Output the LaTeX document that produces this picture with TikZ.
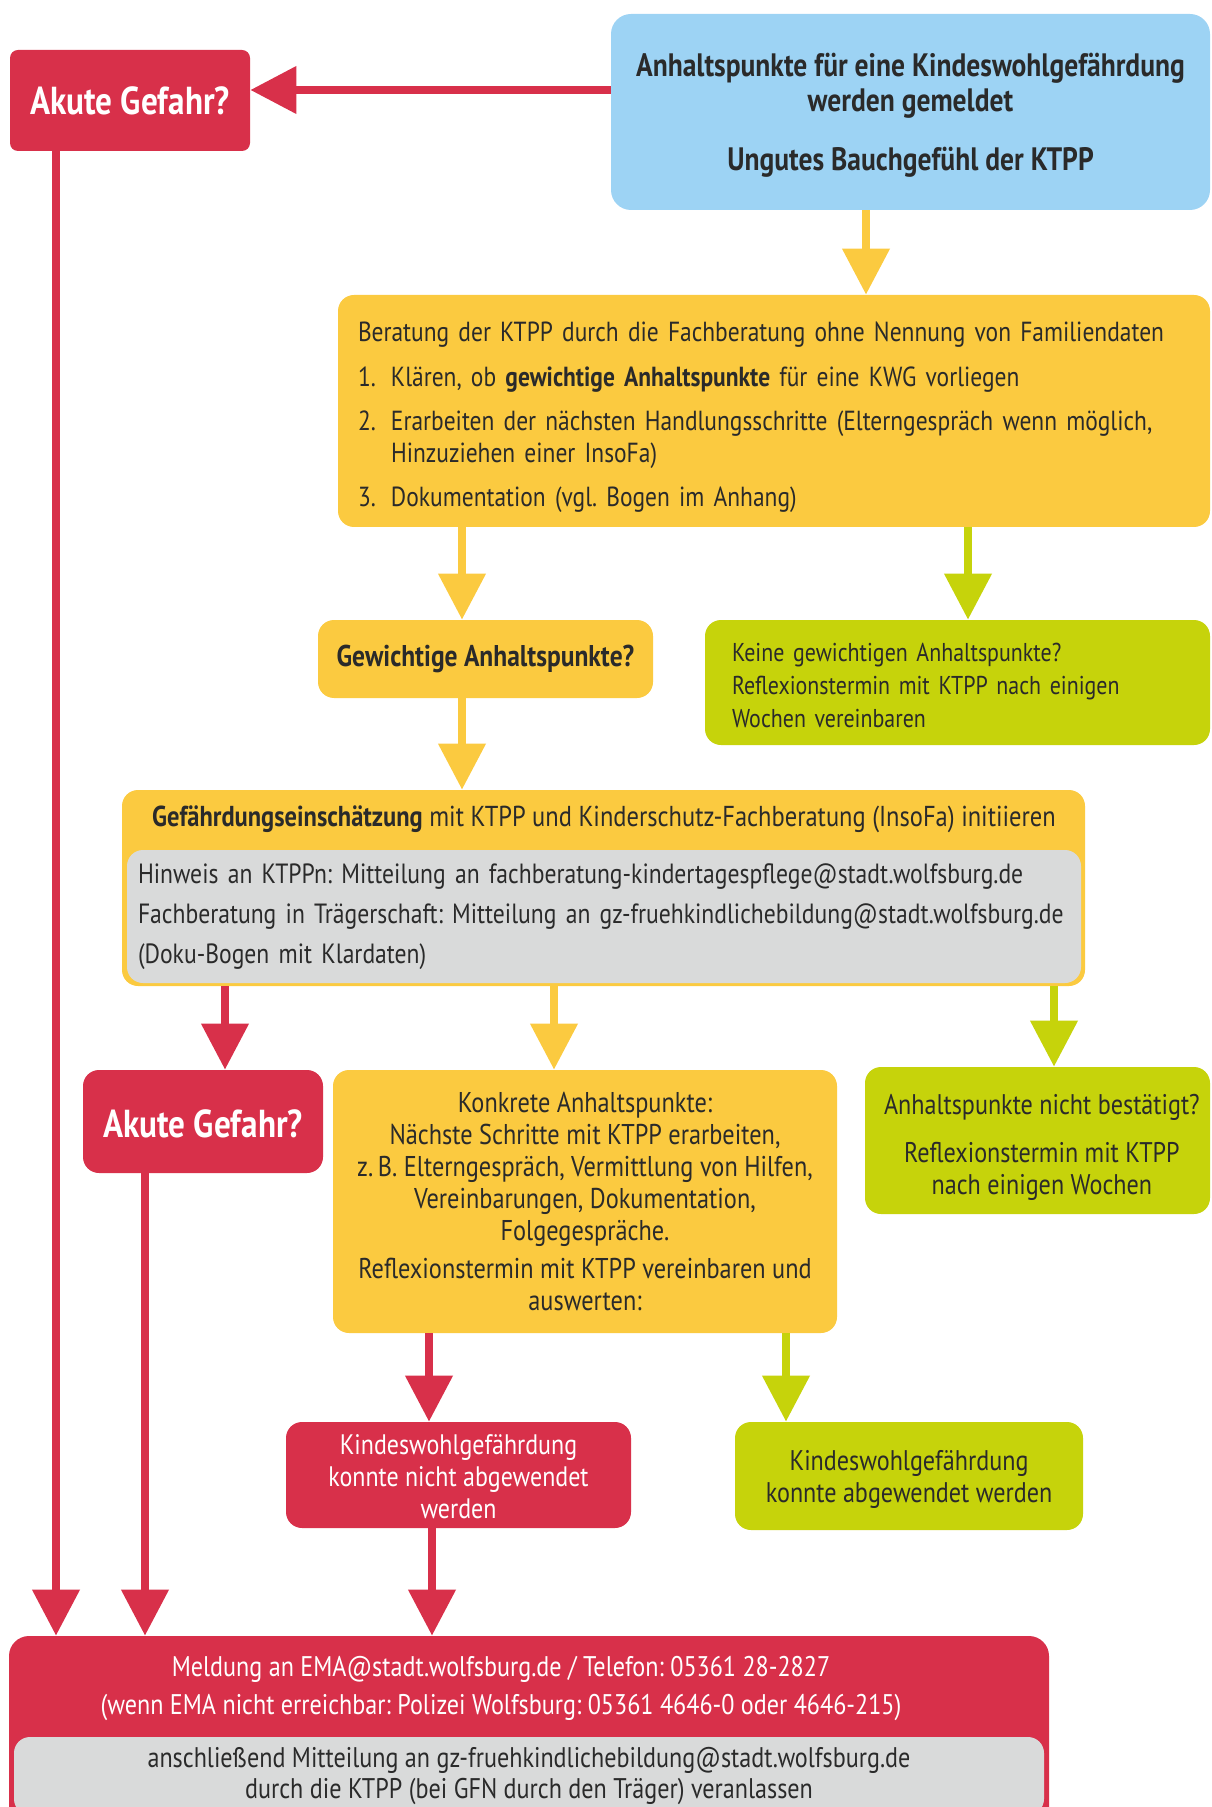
\documentclass[tikz,border=0pt]{standalone}
\usepackage{fontspec}
\setmainfont{PT Sans}[FakeStretch=0.85]
\usetikzlibrary{arrows.meta}
\definecolor{cred}{HTML}{D8304A}
\definecolor{cblue}{HTML}{9DD3F4}
\definecolor{cyel}{HTML}{FBCA40}
\definecolor{cgreen}{HTML}{C6D30B}
\definecolor{cgray}{HTML}{D9DADA}
\definecolor{ctext}{HTML}{2A2A2A}
\newcommand\myfs[2]{\fontsize{#1}{#2}\selectfont}
\frenchspacing
\begin{document}
\begin{tikzpicture}[x=0.5pt,y=-0.5pt,
  box/.style={rounded corners=8pt, inner sep=0pt, text=ctext, align=center,
    font=\myfs{14.2}{16}},
  redbox/.style={box, fill=cred, text=white},
  yelbox/.style={box, fill=cyel},
  grnbox/.style={box, fill=cgreen},
  graybox/.style={box, fill=cgray},
  lbl/.style={inner sep=0pt, text=ctext, align=center, font=\myfs{14.2}{16}},
  bigq/.style={font=\myfs{19.5}{22}\bfseries},
  arr/.style={line width=3.8pt, -{Triangle[length=23pt,width=23pt]}},
  rarr/.style={arr, draw=cred},
  yarr/.style={arr, draw=cyel},
  garr/.style={arr, draw=cgreen},
  txt/.style={inner sep=0pt, text=ctext}]
\useasboundingbox (0,0) rectangle (1211,1807);
\clip (0,0) rectangle (1211,1807);

% top
\node[box, fill=cblue, rounded corners=10pt, minimum width=299.5pt, minimum height=98pt,
  label={[lbl, yshift=-1.7pt, font=\myfs{16.2}{17.5}\bfseries]center:{Anhaltspunkte für eine Kindeswohlgefährdung\\werden gemeldet\\[12pt]Ungutes Bauchgefühl der KTPP}}] (meld) at (910.5,112) {};
\node[redbox, rounded corners=4pt, minimum width=120pt, minimum height=50.5pt, bigq] (akute1) at (130,100.5) {Akute Gefahr?};

% Beratung
\node[yelbox, minimum width=436pt, minimum height=116pt,
  label={[lbl, yshift=-3pt, text width=416pt, align=left, font=\myfs{13.8}{16}]center:{Beratung der KTPP durch die Fachberatung ohne Nennung von Familiendaten\\[6.5pt]
   \makebox[16.5pt][l]{1.}Klären, ob \textbf{gewichtige Anhaltspunkte} für eine KWG vorliegen\\[6pt]
   \makebox[16.5pt][l]{2.}Erarbeiten der nächsten Handlungsschritte (Elterngespräch wenn möglich,\\
   \hspace*{16.5pt}Hinzuziehen einer InsoFa)\\[6pt]
   \makebox[16.5pt][l]{3.}Dokumentation (vgl. Bogen im Anhang)}}] (berat) at (774,411) {};

\node[yelbox, minimum width=167.5pt, minimum height=39pt,
  font=\myfs{15}{16}\bfseries] (gew) at (485.5,659) {Gewichtige Anhaltspunkte?};
\node[grnbox, minimum width=252.5pt, minimum height=62.5pt,
  label={[lbl, yshift=-1.3pt, text width=225.5pt, align=left, font=\myfs{12.9}{16.5}]center:{Keine gewichtigen Anhaltspunkte?\\Reflexionstermin mit KTPP nach einigen\\Wochen vereinbaren}}] (keine) at (957.5,682.5) {};

% Gefaehrdungseinschaetzung
\node[yelbox, minimum width=481.5pt, minimum height=98pt] (gef) at (603.5,888) {};
\node[txt, font=\myfs{14.4}{16}] (geftitle) at (604,819) {\textbf{Gefährdungseinschätzung} mit KTPP und Kinderschutz-Fachberatung (InsoFa) initiieren};
\node[graybox, minimum width=477pt, minimum height=66.5pt, text width=466pt,
  inner xsep=5.5pt, align=left, font=\myfs{13.9}{20}] (gefnote) at (604,916.5)
  {Hinweis an KTPPn: Mitteilung an fachberatung-kindertagespflege@stadt.wolfsburg.de\\
   \mbox{Fachberatung in Trägerschaft: Mitteilung an gz-fruehkindlichebildung@stadt.wolfsburg.de}\\
   (Doku-Bogen mit Klardaten)};

% third row
\node[redbox, minimum width=120pt, minimum height=51.5pt, bigq,
  label={[lbl, text=white, yshift=-1pt, font=\myfs{19.5}{22}\bfseries]center:{Akute Gefahr?}}] (akute2) at (203,1121.5) {};
\node[yelbox, minimum width=252pt, minimum height=131.5pt, font=\myfs{14.3}{16}] (konk) at (585,1201.5)
  {Konkrete Anhaltspunkte:\\Nächste Schritte mit KTPP erarbeiten,\\z.\,B. Elterngespräch, Vermittlung von Hilfen,\\
   Vereinbarungen, Dokumentation,\\Folgegespräche.\\[3pt]Reflexionstermin mit KTPP vereinbaren und\\auswerten:};
\node[grnbox, minimum width=172.5pt, minimum height=73.5pt,
  label={[lbl, yshift=-3.3pt, xshift=2.2pt]center:{Anhaltspunkte nicht bestätigt?\\[8pt]Reflexionstermin mit KTPP\\nach einigen Wochen}}] (nbest) at (1037.5,1140.5) {};

% fourth row
\node[redbox, minimum width=172.5pt, minimum height=53pt,
  label={[lbl, text=white, yshift=-1pt, font=\myfs{14.1}{16}]center:{Kindeswohlgefährdung\\konnte nicht abgewendet\\werden}}] (nabg) at (458.5,1475) {};
\node[grnbox, minimum width=174pt, minimum height=54pt,
  label={[lbl, yshift=-1.6pt]center:{Kindeswohlgefährdung\\konnte abgewendet werden}}] (abg) at (909,1476) {};

% bottom
\node[redbox, rounded corners=10pt, minimum width=520pt, minimum height=97pt] (ema) at (529,1733) {};
\node[txt, text=white, align=center, font=\myfs{14.2}{19}] (ematext) at (501,1688)
  {Meldung an EMA@stadt.wolfsburg.de / Telefon: 05361 28-2827\\(wenn EMA nicht erreichbar: Polizei Wolfsburg: 05361 4646-0 oder 4646-215)};
\node[graybox, minimum width=515pt, minimum height=39pt, font=\myfs{14.2}{15.5}] (emanote) at (529,1776)
  {anschließend Mitteilung an gz-fruehkindlichebildung@stadt.wolfsburg.de\\durch die KTPP (bei GFN durch den Träger) veranlassen};

% x / y positions of connectors
\coordinate (yA) at (0,90);
\coordinate (xB) at (866,0);
\coordinate (xC) at (462,0);
\coordinate (xD) at (968,0);
\coordinate (xE) at (225,0);
\coordinate (xF) at (554,0);
\coordinate (xG) at (1054,0);
\coordinate (xH) at (56,0);
\coordinate (xI) at (145,0);
\coordinate (xJ) at (429,0);
\coordinate (xK) at (786,0);
\coordinate (xL) at (432,0);

\draw[rarr] (meld.west |- yA) -- (akute1.east |- yA);
\draw[yarr] (meld.south -| xB) -- (berat.north -| xB);
\draw[yarr] (berat.south -| xC) -- (gew.north -| xC);
\draw[garr] (berat.south -| xD) -- (keine.north -| xD);
\draw[yarr] (gew.south -| xC) -- (gef.north -| xC);
\draw[rarr] (gef.south -| xE) -- (akute2.north -| xE);
\draw[yarr] (gef.south -| xF) -- (konk.north -| xF);
\draw[garr] (gef.south -| xG) -- (nbest.north -| xG);
\draw[rarr] (akute1.south -| xH) -- (ema.north -| xH);
\draw[rarr] (akute2.south -| xI) -- (ema.north -| xI);
\draw[rarr] (konk.south -| xJ) -- (nabg.north -| xJ);
\draw[garr] (konk.south -| xK) -- (abg.north -| xK);
\draw[rarr] (nabg.south -| xL) -- (ema.north -| xL);
\end{tikzpicture}
\end{document}
